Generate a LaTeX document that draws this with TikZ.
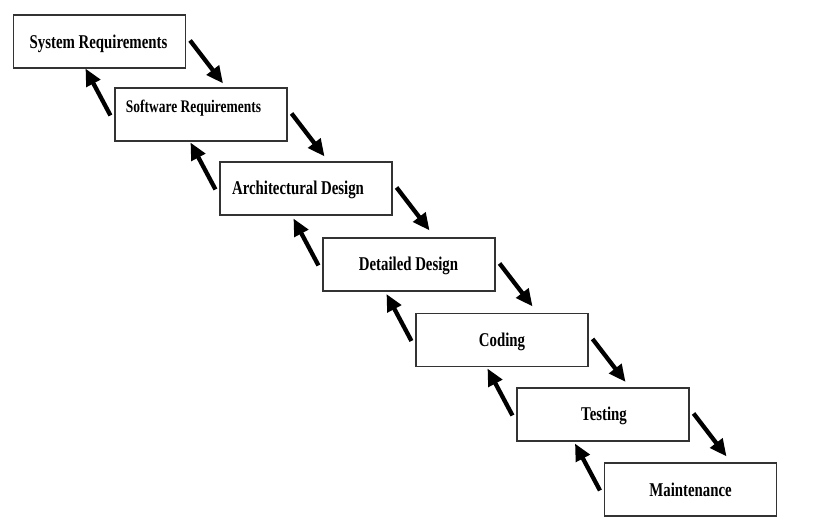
\documentclass[tikz,border=0pt]{standalone}
\usepackage{fontspec}
\newfontfamily\boxfont{Liberation Serif}[FakeStretch=0.76]
\usetikzlibrary{arrows.meta,calc}
\begin{document}
\begin{tikzpicture}[x=1pt,y=-1pt,
  box/.style={draw=black!80, line width=1.1pt, minimum width=172pt, minimum height=53pt, inner sep=0pt},
  lbl/.style={anchor=base, inner sep=0pt, font=\boxfont\bfseries\fontsize{19.5}{22}\selectfont},
  lblsmall/.style={anchor=base, inner sep=0pt, font=\boxfont\bfseries\fontsize{17.7}{20}\selectfont},
  arr/.style={line width=4.3pt, -{Triangle[length=17pt,width=15pt]}}]
\useasboundingbox (0,0) rectangle (826,528);
\node[box] (b1) at (99.5,41.5) {};
\node[box] (b2) at (201,114.5) {};
\node[box] (b3) at (306,188.5) {};
\node[box] (b4) at (409,264.5) {};
\node[box] (b5) at (502,340) {};
\node[box] (b6) at (603,414.5) {};
\node[box] (b7) at (690.5,489.5) {};
\node[lbl] (t1) at (98.5,48.5) {System Requirements};
\node[lblsmall] (t2) at (193.5,112.5) {Software Requirements};
\node[lbl] (t3) at (298,194.5) {Architectural Design};
\node[lbl] (t4) at (408.5,270.5) {Detailed Design};
\node[lbl] (t5) at (502,346.5) {Coding};
\node[lbl] (t6) at (604,420.5) {Testing};
\node[lbl] (t7) at (690.5,496) {Maintenance};
\foreach \a/\b in {b1/b2,b2/b3,b3/b4,b4/b5,b5/b6,b6/b7}{
  \draw[arr] ($(\a.north east)+(4,26)$) -- ++(33,43);
  \draw[arr] ($(\b.north west)+(-4,28)$) -- ++(-25,-47);
}
\end{tikzpicture}
\end{document}
